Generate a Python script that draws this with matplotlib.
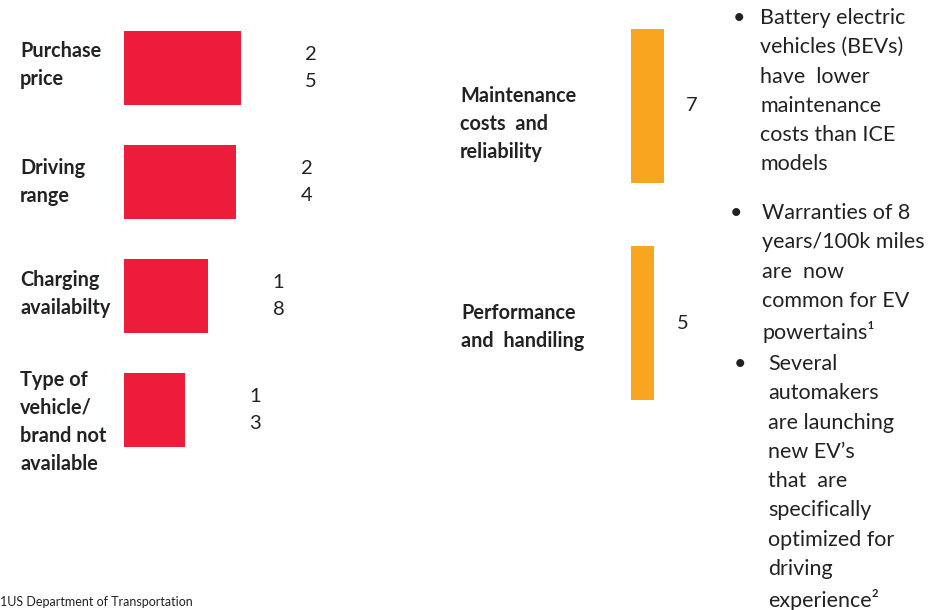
import matplotlib
matplotlib.use("Agg")
import matplotlib.pyplot as plt

# ---------- Données ----------

freins      = ["Purchase\nprice", "Driving\nrange", "Charging\navailabilty",
               "Type of\nvehicle/\nbrand not\navailable"]
freins_val  = [25, 24, 18, 13]
freins_lbl  = ["2\n5", "2\n4", "1\n8", "1\n3"]

atouts      = ["Maintenance\ncosts  and\nreliability", "Performance\nand  handiling"]
atouts_val  = [7, 5]
atouts_lbl  = ["7", "5"]

puces = [
    "Battery electric\nvehicles (BEVs)\nhave  lower\nmaintenance\ncosts than ICE\nmodels",
    "Warranties of 8\nyears/100k miles\nare  now\ncommon for EV\npowertains\u00b9",
    "Several\nautomakers\nare launching\nnew EV\u2019s\nthat  are\nspecifically\noptimized for\ndriving\nexperience\u00b2",
]
note = "1US Department of Transportation"

ROUGE  = "#ED1C3A"
ORANGE = "#F8A51F"
TEXTE  = "#222222"

W, H = 947, 610
plt.rcParams['font.family'] = ['Lato', 'DejaVu Sans']

fig = plt.figure(figsize=(W / 100, H / 100), dpi=100)

def px(x, y):
    # pixels (origine en haut à gauche) -> fraction de figure
    return x / W, 1 - y / H

def zone(x0, y0, x1, y1):
    return [x0 / W, 1 - y1 / H, (x1 - x0) / W, (y1 - y0) / H]

echelle = 4.68  # px par unité

# ---------- Barres rouges ----------

ax1 = fig.add_axes(zone(124, 11, 424, 467))
ax1.set_xlim(0, 300 / echelle)
ax1.set_ylim(len(freins) - 0.5, -0.5)
ax1.barh(range(len(freins)), freins_val, height=0.65, color=ROUGE)
ax1.axis("off")

decalage = [-3, 0, -2, 12]  # petit recalage vertical des libellés (px)
for i, (nom, v, lbl) in enumerate(zip(freins, freins_val, freins_lbl)):
    ax1.text(v + 15, i, lbl, ha="center", va="center", fontsize=14.5,
             color=TEXTE, linespacing=1.65)
    yc = 11 + 114 * i + 57 + decalage[i]
    fig.text(*px(20, yc), nom, ha="left", va="center", fontsize=14.3,
             fontweight="bold", color=TEXTE, linespacing=1.5)

# ---------- Barres orange ----------

ax2 = fig.add_axes(zone(631, -3, 731, 432))
ax2.set_xlim(0, 100 / echelle)
ax2.set_ylim(len(atouts) - 0.5, -0.5)
ax2.barh(range(len(atouts)), atouts_val, height=0.71, color=ORANGE)
ax2.axis("off")

for i, (v, lbl) in enumerate(zip(atouts_val, atouts_lbl)):
    ax2.text(v + 6, i, lbl, ha="center", va="center", fontsize=14.5, color=TEXTE)

fig.text(*px(460, 124), atouts[0], ha="left", va="center", fontsize=14.3,
         fontweight="bold", color=TEXTE, linespacing=1.5)
fig.text(*px(461, 327), atouts[1], ha="left", va="center", fontsize=14.3,
         fontweight="bold", color=TEXTE, linespacing=1.5)

# ---------- Commentaires à droite ----------

pos_puces = [(733, 760, 8), (730, 762, 203), (734, 768, 354)]
for (xb, xt, yt), txt in zip(pos_puces, puces):
    fig.text(*px(xb, yt), "\u2022", ha="left", va="top", fontsize=15.5, color=TEXTE)
    fig.text(*px(xt, yt), txt, ha="left", va="top", fontsize=15.5,
             color=TEXTE, linespacing=1.58)

# note de bas de page
fig.text(*px(0, 596), note, ha="left", va="top", fontsize=9, color=TEXTE)

plt.savefig("out.png", dpi=100)
